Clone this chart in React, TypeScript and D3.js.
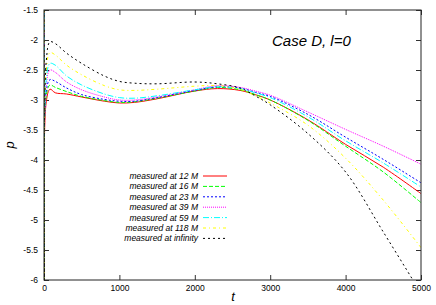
import React, { useEffect, useRef } from "react";
import * as d3 from "d3";

// sample times (shared by every series)
const times = [0, 10, 30, 80, 150, 300, 500, 800, 1000, 1200, 1500, 2000, 2300, 2600, 2800, 3000, 3500, 4000, 4500, 5000];

const p12 = [-1.0, -7.0, -3.03, -2.82, -2.88, -2.9, -2.95, -3.02, -3.05, -3.04, -2.98, -2.85, -2.81, -2.84, -2.91, -3.0, -3.33, -3.74, -4.12, -4.56];
const p16 = [-1.0, -7.0, -2.92, -2.75, -2.79, -2.86, -2.94, -3.01, -3.04, -3.03, -2.97, -2.85, -2.79, -2.83, -2.91, -3.0, -3.34, -3.77, -4.2, -4.71];
const p23 = [-1.0, -7.0, -2.85, -2.66, -2.69, -2.8, -2.91, -2.99, -3.02, -3.02, -2.96, -2.84, -2.78, -2.8, -2.87, -2.94, -3.24, -3.62, -3.99, -4.38];
const p39 = [-1.0, -7.0, -2.75, -2.5, -2.54, -2.7, -2.83, -2.95, -3.0, -3.0, -2.95, -2.83, -2.76, -2.79, -2.85, -2.92, -3.2, -3.49, -3.77, -4.07];
const p59 = [-1.0, -7.0, -2.65, -2.39, -2.42, -2.6, -2.75, -2.9, -2.96, -2.97, -2.93, -2.83, -2.78, -2.81, -2.88, -2.96, -3.28, -3.68, -4.05, -4.45];
const p118 = [-1.0, -7.0, -2.5, -2.21, -2.25, -2.42, -2.58, -2.76, -2.83, -2.84, -2.82, -2.77, -2.76, -2.82, -2.93, -3.05, -3.42, -3.97, -4.67, -5.46];
const pInf = [-1.0, -7.0, -2.35, -2.03, -2.06, -2.22, -2.39, -2.6, -2.69, -2.72, -2.73, -2.7, -2.73, -2.8, -2.93, -3.08, -3.56, -4.2, -5.2, -6.22];

const labels = [
  "measured at 12 M",
  "measured at 16 M",
  "measured at 23 M",
  "measured at 39 M",
  "measured at 59 M",
  "measured at 118 M",
  "measured at infinity",
];
const xTicks = [0, 1000, 2000, 3000, 4000, 5000];
const yTicks = [-1.5, -2, -2.5, -3, -3.5, -4, -4.5, -5, -5.5, -6];

const seriesValues = [p12, p16, p23, p39, p59, p118, pInf];
const colors = ["#ff0000", "#00ff00", "#0000ff", "#ff00ff", "#00ffff", "#ffff00", "#000000"];
const dashes = ["none", "4,2", "2,2", "1,1", "6,2,1,2", "3,3,1,3", "2,3"];

export default function App() {
  const ref = useRef<SVGSVGElement | null>(null);

  useEffect(() => {
    const W = 436, H = 305;
    const m = { left: 44, right: 15, top: 10, bottom: 25 };
    const svg = d3.select(ref.current);
    svg.selectAll("*").remove();

    const x = d3.scaleLinear().domain([0, 5000]).range([m.left, W - m.right]);
    const y = d3.scaleLinear().domain([-6, -1.5]).range([H - m.bottom, m.top]);
    const font = "'Liberation Sans', Arial, sans-serif";

    svg.append("rect").attr("width", W).attr("height", H).attr("fill", "#fff");

    svg.append("defs").append("clipPath").attr("id", "plot")
      .append("rect")
      .attr("x", m.left).attr("y", m.top)
      .attr("width", W - m.left - m.right).attr("height", H - m.top - m.bottom);

    // axes, ticks pointing inward
    const gx = svg.append("g")
      .attr("transform", `translate(0,${H - m.bottom})`)
      .call(d3.axisBottom(x).tickValues(xTicks).tickFormat(d3.format("d")).tickSizeInner(-5).tickSizeOuter(0).tickPadding(5));
    const gy = svg.append("g")
      .attr("transform", `translate(${m.left},0)`)
      .call(d3.axisLeft(y).tickValues(yTicks).tickFormat(d => String(d)).tickSizeInner(-5).tickSizeOuter(0).tickPadding(6));
    svg.append("g")
      .attr("transform", `translate(0,${m.top})`)
      .call(d3.axisTop(x).tickValues(xTicks).tickFormat(() => "").tickSizeInner(-5).tickSizeOuter(0));
    svg.append("g")
      .attr("transform", `translate(${W - m.right},0)`)
      .call(d3.axisRight(y).tickValues(yTicks).tickFormat(() => "").tickSizeInner(-5).tickSizeOuter(0));

    svg.selectAll(".domain").remove();
    svg.selectAll(".tick line").attr("stroke", "#333");
    [gx, gy].forEach(g => g.selectAll("text")
      .style("font-family", font).style("font-size", "8.5px").attr("fill", "#000"));

    // curves
    const line = d3.line<number>()
      .x((_, i) => x(times[i]))
      .y(d => y(d))
      .curve(d3.curveCatmullRom.alpha(0.5));

    const plot = svg.append("g").attr("clip-path", "url(#plot)");
    seriesValues.forEach((vals, i) => {
      plot.append("path")
        .datum(vals)
        .attr("fill", "none")
        .attr("stroke", colors[i])
        .attr("stroke-width", 1)
        .attr("stroke-dasharray", dashes[i])
        .attr("d", line);
    });

    svg.append("rect")
      .attr("x", m.left).attr("y", m.top)
      .attr("width", W - m.left - m.right).attr("height", H - m.top - m.bottom)
      .attr("fill", "none").attr("stroke", "#222").attr("stroke-width", 1);

    // legend
    const lg = svg.append("g");
    labels.forEach((lab, i) => {
      const ly = 176 + i * 10.4;
      lg.append("text")
        .attr("x", 198).attr("y", ly + 3)
        .attr("text-anchor", "end")
        .style("font-family", font).style("font-size", "8.5px").style("font-style", "italic")
        .text(lab);
      lg.append("line")
        .attr("x1", 203).attr("x2", 227).attr("y1", ly).attr("y2", ly)
        .attr("stroke", colors[i]).attr("stroke-dasharray", dashes[i]);
    });

    // title and axis labels
    svg.append("text")
      .attr("x", 272).attr("y", 46)
      .style("font-family", font).style("font-size", "15px").style("font-style", "italic")
      .text("Case D, l=0");
    svg.append("text")
      .attr("transform", "translate(14,145) rotate(-90)")
      .attr("text-anchor", "middle")
      .style("font-family", font).style("font-size", "13px").style("font-style", "italic")
      .text("p");
    svg.append("text")
      .attr("x", 233).attr("y", 301)
      .attr("text-anchor", "middle")
      .style("font-family", font).style("font-size", "13px").style("font-style", "italic")
      .text("t");
  }, []);

  return (
    <svg ref={ref} width={436} height={305}
      style={{ position: "absolute", left: 0, top: 0, display: "block" }} />
  );
}
